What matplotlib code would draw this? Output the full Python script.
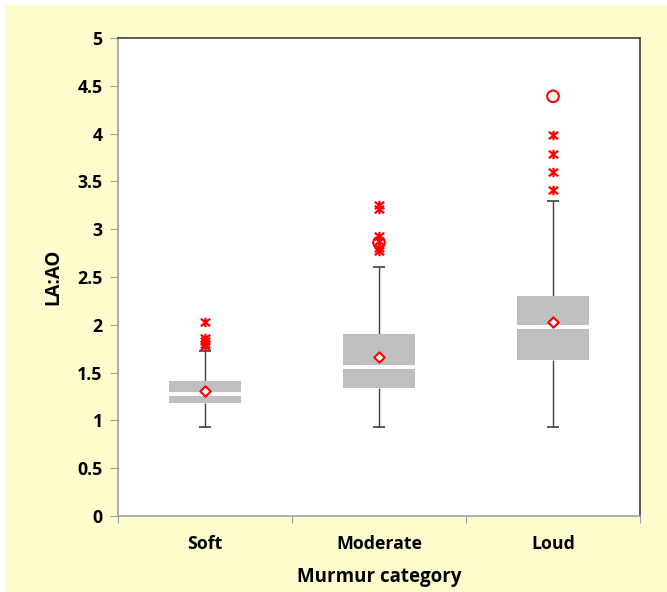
import numpy as np
import matplotlib
matplotlib.use('Agg')
import matplotlib.pyplot as plt
from matplotlib.patches import Rectangle
from matplotlib.path import Path

plt.rcParams['font.family'] = ['Open Sans', 'DejaVu Sans']

categories = ['Soft', 'Moderate', 'Loud']
q1 = [1.185, 1.34, 1.63]
median = [1.275, 1.555, 1.975]
q3 = [1.415, 1.90, 2.30]
whisker_low = [0.93, 0.93, 0.935]
whisker_high = [1.725, 2.60, 3.30]
means = [1.31, 1.66, 2.025]
star_outliers = [
    [2.025, 1.86, 1.83, 1.80, 1.78],
    [3.25, 3.21, 2.93, 2.88, 2.80, 2.77],
    [3.99, 3.79, 3.60, 3.41],
]
circle_outliers = [[], [2.86], [4.39]]

yellow = '#FFFCCD'
box_gray = '#BFBFBF'

# asterisk: vertical bar plus an X
star = Path([(0, -1), (0, 1), (-1, -0.8), (1, 0.8), (-1, 0.8), (1, -0.8)],
            [Path.MOVETO, Path.LINETO, Path.MOVETO, Path.LINETO, Path.MOVETO, Path.LINETO])

fig = plt.figure(figsize=(6.67, 5.92), dpi=100)
fig.patch.set_facecolor('white')
fig.patches.append(Rectangle((5 / 667, 0), 1, 587 / 592, transform=fig.transFigure,
                             facecolor=yellow, edgecolor='none', zorder=-10))

ax = fig.add_axes([118 / 667, 76 / 592, 522 / 667, 478 / 592])
ax.set_facecolor('white')

x = np.arange(1, len(categories) + 1)
w = 0.41

ax.bar(x, np.array(q3) - np.array(q1), bottom=q1, width=w, color=box_gray,
       edgecolor='none', zorder=2)
ax.hlines(median, x - w / 2, x + w / 2, colors='white', linewidth=2.8, zorder=3)
ax.vlines(x, whisker_low, q1, colors='#3F3F3F', linewidth=1, zorder=1)
ax.vlines(x, q3, whisker_high, colors='#3F3F3F', linewidth=1, zorder=1)
ax.hlines(whisker_low, x - 0.035, x + 0.035, colors='#3F3F3F', linewidth=1.2, zorder=1)
ax.hlines(whisker_high, x - 0.035, x + 0.035, colors='#3F3F3F', linewidth=1.2, zorder=1)

ax.scatter(x, means, marker='D', s=28, facecolor='white', edgecolor='red',
           linewidth=1.5, zorder=4)
for xi, vals in zip(x, circle_outliers):
    if vals:
        ax.scatter([xi] * len(vals), vals, marker='o', s=70, facecolor='none',
                   edgecolor='red', linewidth=1.5, zorder=4)
for xi, vals in zip(x, star_outliers):
    ax.scatter([xi] * len(vals), vals, marker=star, s=45, color='red',
               linewidth=1.6, zorder=5)

ax.set_xlim(0.5, 3.5)
ax.set_ylim(0, 5)
ax.set_yticks(np.arange(0, 5.01, 0.5))
ax.set_yticklabels(['0', '0.5', '1', '1.5', '2', '2.5', '3', '3.5', '4', '4.5', '5'])
ax.set_xticks([0.5, 1.5, 2.5, 3.5])
ax.set_xticklabels([])
ax.set_xticks(x, minor=True)
ax.set_xticklabels(categories, minor=True)
ax.tick_params(axis='x', which='minor', length=0, pad=14, labelsize=12.8)
ax.tick_params(axis='x', which='major', length=5, color='#A0A0A0')
ax.tick_params(axis='y', length=6, color='#A0A0A0', labelsize=12.8, pad=5)
for lab in ax.get_xticklabels(minor=True) + ax.get_yticklabels():
    lab.set_fontweight('bold')

ax.spines['left'].set_color('#A0A0A0')
ax.spines['bottom'].set_color('#A0A0A0')
ax.spines['top'].set_color('#404040')
ax.spines['right'].set_color('#404040')
for s in ax.spines.values():
    s.set_linewidth(1.2)

ax.set_ylabel('LA:AO', fontsize=13.5, fontweight='bold', labelpad=10)
ax.set_xlabel('Murmur category', fontsize=13.5, fontweight='bold', labelpad=10)

fig.savefig('out.png', dpi=100, facecolor=fig.get_facecolor())
